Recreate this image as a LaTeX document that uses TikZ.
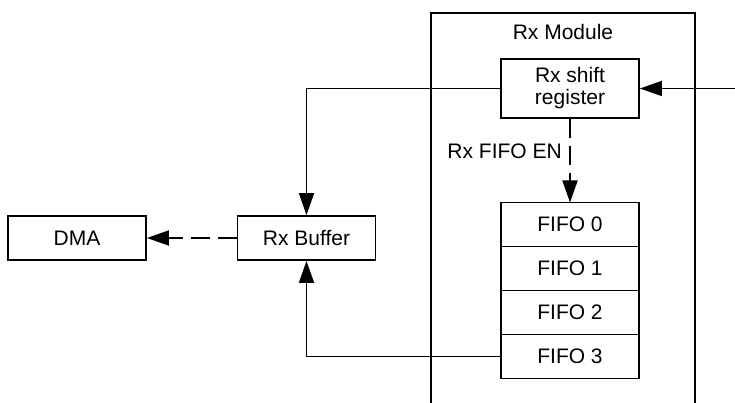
\documentclass[tikz,border=0pt]{standalone}
\usepackage{fontspec}
\setmainfont{Liberation Sans}
\usetikzlibrary{arrows.meta}
\begin{document}
\begin{tikzpicture}[x=1pt,y=-1pt,
  box/.style={draw,line width=1.8pt,inner sep=0pt,align=center,font=\fontsize{21}{23}\selectfont},
  fifo/.style={box,minimum width=138pt,minimum height=44pt,outer sep=0pt},
  lbl/.style={inner sep=0pt,font=\fontsize{21}{23}\selectfont},
  conn/.style={line width=1.8pt,-{Triangle[length=22pt,width=15pt]}},
  dconn/.style={conn,dash pattern=on 19pt off 8pt}]
\useasboundingbox (0,0) rectangle (735,403);
% Rx Module enclosure (open at bottom)
\draw[line width=1.8pt] (431,403) -- (431,13) -- (695,13) -- (695,403);
\node[lbl] (mod) at (563,32) {Rx Module};
% boxes
\node[box,minimum width=138pt,minimum height=59pt] (sr) at (570,88.5) {Rx shift\\[-1pt]register};
\node[fifo] (f0) at (570,224.5) {FIFO 0};
\node[fifo,anchor=north] (f1) at (f0.south) {FIFO 1};
\node[fifo,anchor=north] (f2) at (f1.south) {FIFO 2};
\node[fifo,anchor=north] (f3) at (f2.south) {FIFO 3};
\node[box,minimum width=138pt,minimum height=44pt] (buf) at (306.5,238) {Rx Buffer};
\node[box,minimum width=138pt,minimum height=44pt] (dma) at (77,238) {DMA};
\coordinate (in) at (735,88.5);
% connectors
\draw[conn] (in) -- (sr.east);
\draw[conn] (sr.west) -| (buf.north);
\draw[conn] (f3.west) -| (buf.south);
\draw[dconn] (buf.west) -- (dma.east);
\draw[dconn] (sr.south) -- (f0.north);
\node[lbl,anchor=east] (en) at (562,151) {Rx FIFO EN};
\end{tikzpicture}
\end{document}
